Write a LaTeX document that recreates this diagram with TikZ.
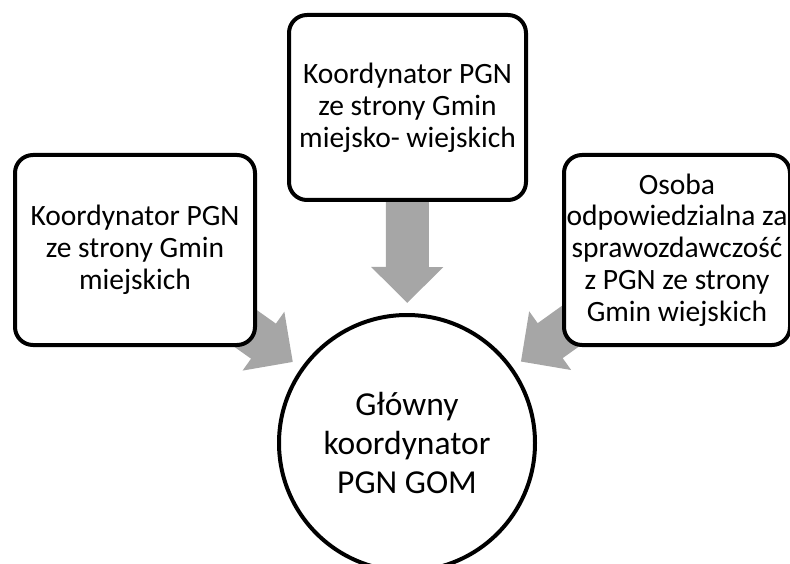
\documentclass[tikz,border=0pt]{standalone}
\usepackage{fontspec}
\setmainfont{Carlito}
\usetikzlibrary{arrows.meta,backgrounds}
\definecolor{arrowgray}{RGB}{166,166,166}
\tikzset{
  box/.style={draw, line width=4pt, rounded corners=18pt, fill=white, align=center,
    inner sep=0pt, font=\fontsize{29.5}{31.8}\selectfont},
  bigarrow/.style={draw=arrowgray, line width=43pt,
    -{Triangle[width=70pt,length=36pt]}, shorten >=10pt}
}

\begin{document}
\begin{tikzpicture}[x=1pt,y=-1pt]
            \useasboundingbox (0,0) rectangle (790,564);

            \node[box, minimum width=240pt, minimum height=190pt] (left) at (135,250)
                {Koordynator PGN\\ze strony Gmin\\miejskich};
            \node[box, minimum width=237pt, minimum height=185pt] (top) at (407.5,107.5)
                {Koordynator PGN\\ze strony Gmin\\miejsko- wiejskich};
            \node[box, minimum width=226pt, minimum height=190pt] (right) at (677,250)
                {Osoba\\odpowiedzialna za\\sprawozdawczość\\z PGN ze strony\\Gmin wiejskich};

            \node[draw, circle, line width=4pt, fill=white, minimum size=256pt, inner sep=0pt,
                align=center, font=\fontsize{33.5}{39}\selectfont] (circ) at (407,443)
                {Główny\\koordynator\\PGN GOM};

            \begin{scope}[on background layer]
                \draw[bigarrow] (left.center) -- (circ);
                \draw[bigarrow] (top.center) -- (circ);
                \draw[bigarrow] (right.center) -- (circ);
            \end{scope}
        \end{tikzpicture}
\end{document}
